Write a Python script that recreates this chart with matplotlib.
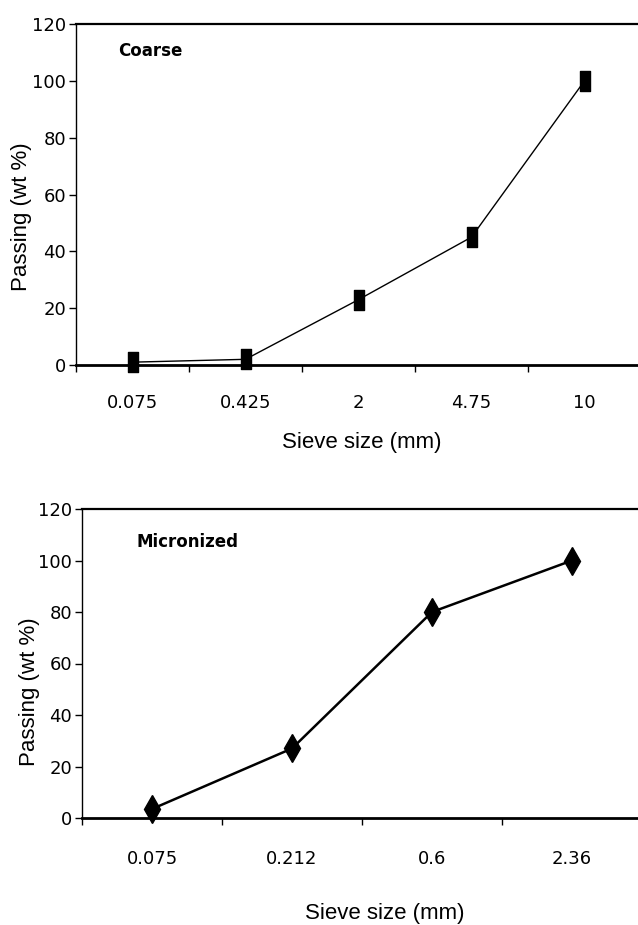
import matplotlib
matplotlib.use('Agg')
import matplotlib.pyplot as plt
from matplotlib.path import Path

# data
coarse_sizes = ['0.075', '0.425', '2', '4.75', '10']
coarse_passing = [1, 2, 23, 45, 100]

micro_sizes = ['0.075', '0.212', '0.6', '2.36']
micro_passing = [3.5, 27, 80, 100]

yticks = [0, 20, 40, 60, 80, 100, 120]

narrow = ['Liberation Sans Narrow', 'DejaVu Sans']
plain = ['Liberation Sans', 'DejaVu Sans']

# tall thin rectangle marker like the original
rect = Path([(-0.28, -0.5), (0.28, -0.5), (0.28, 0.5), (-0.28, 0.5), (-0.28, -0.5)],
            [Path.MOVETO, Path.LINETO, Path.LINETO, Path.LINETO, Path.CLOSEPOLY])

fig = plt.figure(figsize=(6.38, 9.25), dpi=100)


def style_axes(ax, sizes, pad_x):
    n = len(sizes)
    ax.set_xlim(-0.5, n - 0.5)
    ax.set_ylim(0, 120)
    ax.set_yticks(yticks)
    ax.set_yticklabels([str(v) for v in yticks], family=narrow, fontsize=13)
    # ticks sit between categories, labels under categories
    ax.set_xticks([i + 0.5 for i in range(-1, n - 1)])
    ax.set_xticklabels([])
    ax.set_xticks(range(n), minor=True)
    ax.set_xticklabels(sizes, minor=True, family=narrow, fontsize=13)
    ax.tick_params(axis='x', which='minor', length=0, pad=pad_x)
    ax.tick_params(axis='x', which='major', direction='out', length=5, width=1)
    ax.tick_params(axis='y', direction='out', length=5, width=1, pad=2)
    ax.spines['right'].set_visible(False)
    ax.spines['top'].set_linewidth(1.6)
    ax.spines['left'].set_linewidth(1.0)
    ax.spines['bottom'].set_linewidth(2.0)


# top panel: coarse
ax1 = fig.add_axes([76 / 638, 1 - 365 / 925, 565 / 638, 341 / 925])
ax1.plot(range(len(coarse_sizes)), coarse_passing, color='black', lw=1.0,
         marker=rect, markersize=14, markerfacecolor='black', markeredgecolor='black',
         clip_on=False, zorder=3)
style_axes(ax1, coarse_sizes, 21)
ax1.set_ylabel('Passing (wt %)', family=plain, fontsize=16, va='center')
ax1.yaxis.set_label_coords(-0.096, 0.434)
ax1.set_xlabel('Sieve size (mm)', family=plain, fontsize=16, va='center')
ax1.xaxis.set_label_coords(0.506, -0.228)
ax1.text(0.074, 0.92, 'Coarse', transform=ax1.transAxes, family=narrow,
         fontsize=12, fontweight='bold', va='center', ha='left')

# bottom panel: micronized
ax2 = fig.add_axes([82 / 638, 1 - 818 / 925, 560 / 638, 309 / 925])
ax2.plot(range(len(micro_sizes)), micro_passing, color='black', lw=1.8,
         marker='d', markersize=14, markerfacecolor='black', markeredgecolor='black',
         clip_on=False, zorder=3)
style_axes(ax2, micro_sizes, 23)
ax2.set_ylabel('Passing (wt %)', family=plain, fontsize=16, va='center')
ax2.yaxis.set_label_coords(-0.093, 0.408)
ax2.set_xlabel('Sieve size (mm)', family=plain, fontsize=16, va='center')
ax2.xaxis.set_label_coords(0.54, -0.309)
ax2.text(0.098, 0.893, 'Micronized', transform=ax2.transAxes, family=narrow,
         fontsize=12, fontweight='bold', va='center', ha='left')

fig.savefig('out.png', dpi=100)
